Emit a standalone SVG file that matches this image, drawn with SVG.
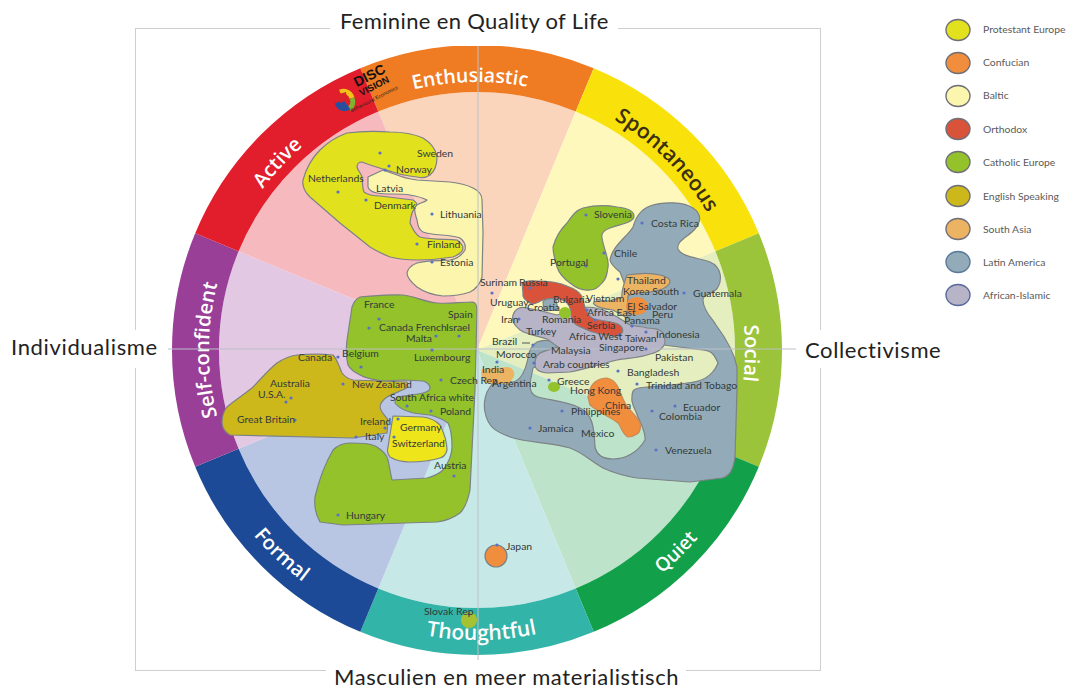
<svg xmlns="http://www.w3.org/2000/svg" width="1067" height="691" viewBox="0 0 1067 691">
<style>
text{font-family:"Lato","Liberation Sans",sans-serif}
.t{font-size:22px;fill:#222;letter-spacing:.35px}
.ring{font-family:"Open Sans","Liberation Sans",sans-serif;font-size:20px;font-weight:600;fill:#fff;text-anchor:middle}
.l{font-size:10.4px;fill:#333a3a}
.g{font-size:10.4px;fill:#5a5a5a}
.r{stroke:#7c8285;stroke-width:1.2;stroke-linejoin:round}
.k{stroke:#6f6f78;stroke-width:1.4}
.d{fill:#5b72c4}
.pe{fill:#E2E11E}.co{fill:#F08E3E}.ba{fill:#FBF5AE}.or{fill:#D9533A}.ce{fill:#93C22B}.en{fill:#CDB81B}.sa{fill:#ECB362}.la{fill:#93ABB8}.ai{fill:#B6B4C6}
</style>
<defs>
<path id="pEnth" d="M374.4 102.4A268 268 0 0 1 579.6 102.4"/>
<path id="pSpon" d="M579.6 102.4A268 268 0 0 1 724.6 247.4"/>
<path id="pSoc" d="M724.6 247.4A268 268 0 0 1 724.6 452.6"/>
<path id="pAct" d="M229.4 247.4A268 268 0 0 1 374.4 102.4"/>
<path id="pSelf" d="M229.4 452.6A268 268 0 0 1 229.4 247.4"/>
<path id="pQuiet" d="M588 618A290 290 0 0 0 745 461"/>
<path id="pThou" d="M366 618A290 290 0 0 0 588 618"/>
<path id="pForm" d="M209 461A290 290 0 0 0 366 618"/>
</defs>
<rect id="frame" x="135.5" y="28.5" width="685" height="642" fill="#fff" stroke="#cfcfcf"/>
<g id="wedges">
<path fill="#FBD4BC" d="M477 350L378.3 111.6A258 258 0 0 1 575.7 111.6Z"/>
<path fill="#FEF8BC" d="M477 350L575.7 111.6A258 258 0 0 1 715.4 251.3Z"/>
<path fill="#E4EEBE" d="M477 350L715.4 251.3A258 258 0 0 1 715.4 448.7Z"/>
<path fill="#BDE3CB" d="M477 350L715.4 448.7A258 258 0 0 1 575.7 588.4Z"/>
<path fill="#C6E8E7" d="M477 350L575.7 588.4A258 258 0 0 1 378.3 588.4Z"/>
<path fill="#B8C6E3" d="M477 350L378.3 588.4A258 258 0 0 1 238.6 448.7Z"/>
<path fill="#E2C8E3" d="M477 350L238.6 448.7A258 258 0 0 1 238.6 251.3Z"/>
<path fill="#F6B9BE" d="M477 350L238.6 251.3A258 258 0 0 1 378.3 111.6Z"/>
</g>
<g id="ring">
<path fill="#EF7B22" d="M360.3 68.2A305 305 0 0 1 593.7 68.2L575.7 111.6A258 258 0 0 0 378.3 111.6Z"/>
<path fill="#F9E10B" d="M593.7 68.2A305 305 0 0 1 758.8 233.3L715.4 251.3A258 258 0 0 0 575.7 111.6Z"/>
<path fill="#9CC43A" d="M758.8 233.3A305 305 0 0 1 758.8 466.7L715.4 448.7A258 258 0 0 0 715.4 251.3Z"/>
<path fill="#12A04B" d="M758.8 466.7A305 305 0 0 1 593.7 631.8L575.7 588.4A258 258 0 0 0 715.4 448.7Z"/>
<path fill="#32B4A8" d="M593.7 631.8A305 305 0 0 1 360.3 631.8L378.3 588.4A258 258 0 0 0 575.7 588.4Z"/>
<path fill="#1C4A96" d="M360.3 631.8A305 305 0 0 1 195.2 466.7L238.6 448.7A258 258 0 0 0 378.3 588.4Z"/>
<path fill="#9A3F97" d="M195.2 466.7A305 305 0 0 1 195.2 233.3L238.6 251.3A258 258 0 0 0 238.6 448.7Z"/>
<path fill="#E21E2C" d="M195.2 233.3A305 305 0 0 1 360.3 68.2L378.3 111.6A258 258 0 0 0 238.6 251.3Z"/>
</g>
<g id="ring-labels">
<text class="ring" style="font-size:19.5px"><textPath href="#pEnth" startOffset="46.7%">Enthusiastic</textPath></text>
<text class="ring" style="fill:#3a2f10;font-size:21px"><textPath href="#pSpon" startOffset="50%">Spontaneous</textPath></text>
<text class="ring"><textPath href="#pSoc" startOffset="51.5%">Social</textPath></text>
<text class="ring"><textPath href="#pAct" startOffset="46%">Active</textPath></text>
<text class="ring"><textPath href="#pSelf" startOffset="50%">Self-confident</textPath></text>
<text class="ring" style="font-size:19px"><textPath href="#pQuiet" startOffset="49%">Quiet</textPath></text>
<text class="ring" style="font-size:21px"><textPath href="#pThou" startOffset="52%">Thoughtful</textPath></text>
<text class="ring"><textPath href="#pForm" startOffset="53%">Formal</textPath></text>
</g>
<g id="clusters">
<path id="latin-america" class="r la" d="M610 260C612 246 628 236 633 227C636 217 640 210 650 206C664 201 684 202 693 208C702 214 701 222 695 229C688 237 676 241 678 249C681 257 700 258 710 262C722 267 722 280 718 287C714 295 702 293 703 301C704 312 712 318 716 325C725 337 734 352 737 367L737 390L735 457C733 470 730 476 722 478L690 482L637 478C624 476 614 473 603 468C592 462 582 452 570 448C550 442 528 443 510 437C497 432 488 428 485 412C483 402 486 392 490 387C494 380 504 380 513 382C522 380 526 368 528 358C529 350 532 345 537 342C544 339 552 340 557 345L550 360L533 368L530 383C530 392 532 395 538 397C548 400 570 402 580 408C592 414 594 425 595 447C597 456 605 459 613 459C626 459 638 452 645 440C646 430 639 421 636 412C633 405 631 402 632 397C632 390 633 388 647 387C660 386 676 385 687 383C700 382 712 378 718 363C714 354 712 351 703 350L663 345L640 345L625 330L627 300L625 285L620 272C615 268 611 265 610 260Z"/>
<path id="latin-blob" class="r la" d="M543 302C546 297 553 297 556 300L558 310L544 311Z"/>
<path id="catholic-north" class="r ce" d="M553 247C556 236 561 229 567 223C572 216 576 210 583 208C595 205 607 205 617 207C626 208 634 210 634 216C634 222 625 223 610 228C604 230 601 233 602 238C603 244 604 246 605 250C607 256 609 262 608 267C607 275 606 279 602 283C598 288 595 290 590 290C582 291 576 288 570 283C563 278 559 273 557 267C555 260 553 254 553 247Z"/>
<path id="south-asia" class="r sa" d="M627 275C640 273 652 273 660 275C668 277 672 280 669 284C666 289 660 290 650 292C640 293 632 293 628 296L627 318L613 310C605 309 598 308 595 305C590 302 597 300 610 301L622 297C621 291 624 284 627 275Z"/>
<path id="african-islamic" class="r ai" d="M513 315C515 309 520 306 527 308L537 310L557 315C566 312 572 309 580 308C590 306 600 308 610 313C620 318 625 322 630 325C637 327 642 326 647 328C655 328 662 329 664 335C666 342 665 345 662 348C658 352 655 353 650 354C640 358 627 358 617 360C604 363 586 369 570 372L547 373C539 372 535 370 535 365C535 358 536 356 540 353C546 350 553 349 558 347C552 343 549 340 547 339C538 336 528 335 520 330C515 326 511 321 513 315Z"/>
<path id="orthodox" class="r or" d="M522 283C528 280 530 281 537 281C548 281 558 282 567 286C575 289 579 292 581 295C584 301 584 306 586 310C588 315 590 317 594 319C602 321 611 321 618 324C622 326 624 330 622 333C619 336 617 337 613 336C605 335 593 333 585 329C579 326 576 326 573 322C570 316 572 311 569 306C567 302 564 300 559 299C553 298 548 298 543 300C538 302 536 304 532 304C527 302 522 298 523 293Z"/>
<ellipse id="confucian-sv" class="co" cx="637" cy="306" rx="11" ry="9"/>
<path id="confucian-china" class="r co" style="stroke:#c98a55" d="M588 397C589 390 591 385 595 382C599 379 603 378 607 378C612 379 616 383 618 387C621 393 622 398 625 403C629 410 637 416 640 423C641 428 640 432 637 434C634 436 631 437 628 437C622 434 622 428 618 423C612 418 606 416 600 412C594 408 591 406 590 405Z"/>
<path id="south-asia-india" class="sa" d="M482 369L508 367C513 368 515 372 514 376C512 381 507 385 503 384L486 383C482 380 480 374 482 369Z"/>
<path id="baltic" class="r ba" d="M368 177L383 170L397 175C404 178 410 179 417 180L450 182C460 183 467 185 473 188C479 191 482 195 482 200L483 233L482 277C480 285 476 289 470 292C462 295 452 296 443 296C433 295 424 292 417 287C411 282 407 278 407 273C408 268 412 265 417 263C428 260 440 261 450 260C457 259 462 255 465 250C466 245 464 241 460 238C449 234 434 236 423 232C418 229 418 225 417 220C415 214 414 210 415 207C417 203 424 203 427 200C421 197 416 196 410 195C398 193 388 195 377 193C372 192 369 190 368 187Z"/>
<path id="protestant" class="r pe" d="M303 180C306 169 312 158 320 150C328 142 336 137 347 133C362 131 376 131 390 132C402 132 414 134 423 138C431 143 436 149 437 157C437 165 435 171 430 175C426 178 421 178 417 177C409 176 401 175 393 172C383 169 372 166 362 162C359 162 357 164 357 167C358 171 361 173 362 177C363 183 362 188 364 192C368 195 374 196 380 196L413 200C416 202 418 204 416 206C414 208 411 214 410 223C413 230 416 235 420 237C432 240 445 239 457 240C461 243 463 245 463 248C463 252 458 255 453 257C441 259 429 260 417 260C407 260 398 259 390 257C383 254 376 251 370 247L340 223L310 197C305 192 302 186 303 180Z"/>
<path id="catholic-south" class="r ce" d="M347 340L352 307C354 301 356 299 360 297C374 296 390 294 403 295C414 296 425 302 437 303C449 304 461 302 473 302C476 303 477 306 477 310L475 390L470 490C468 500 465 508 460 513C453 518 445 521 437 522L343 525L320 522C316 515 314 506 315 497C319 480 326 462 333 450C338 445 344 443 350 443C360 443 370 443 377 447C383 451 387 455 388 460L392 480L427 478C434 476 439 474 443 470C449 462 452 455 452 447C452 438 451 429 448 423C443 419 437 417 430 415C423 414 416 414 410 412C403 410 398 407 395 403C395 400 396 398 398 397C407 395 415 395 423 393C427 392 430 390 430 388C430 385 427 382 423 381L403 380L383 381C375 380 367 379 360 375C354 372 350 369 348 365C346 357 346 348 347 340Z"/>
<path id="english" class="r en" d="M222 422C222 416 224 411 227 407C235 400 245 394 253 387C261 379 268 370 277 363C283 359 290 356 297 355C309 354 322 354 333 355C337 359 339 366 342 373C345 377 349 379 353 380L407 382L408 387C402 391 394 393 387 397C383 400 380 403 380 407C381 413 386 416 388 420L387 433L353 438L230 435C225 432 222 428 222 422Z"/>
<path id="protestant-de" class="r pe" style="fill:#EEE61A" d="M393 416L423 417C431 418 436 421 440 425C444 433 447 441 447 450C446 454 444 457 440 458C430 461 420 462 410 462C402 462 395 460 390 457C387 453 387 450 388 447Z"/>
<ellipse id="catholic-romania" class="ce" cx="565" cy="313" rx="6" ry="6"/>
<ellipse id="catholic-greece" class="ce" cx="554" cy="387" rx="6" ry="5"/>
<circle id="japan" class="r co" cx="496" cy="556" r="11"/>
<circle id="slovak" cx="469" cy="620" r="8" fill="#A6C233"/>
</g>
<g id="connectors" stroke="#bcc0c8" stroke-width="1" fill="none">
<path d="M478 28V670"/>
<path d="M168 349H800"/>
<path d="M522 343H530" stroke="#555"/>
</g>
<g id="points">
<circle class="d" cx="380" cy="153" r="1.6"/><circle class="d" cx="389" cy="166" r="1.6"/><circle class="d" cx="385" cy="170" r="1.6"/><circle class="d" cx="338" cy="192" r="1.6"/><circle class="d" cx="366" cy="200" r="1.6"/><circle class="d" cx="432" cy="214" r="1.6"/><circle class="d" cx="417" cy="244" r="1.6"/><circle class="d" cx="432" cy="262" r="1.6"/>
<circle class="d" cx="492" cy="293" r="1.6"/><circle class="d" cx="530" cy="288" r="1.6"/><circle class="d" cx="586" cy="215" r="1.6"/><circle class="d" cx="642" cy="223" r="1.6"/><circle class="d" cx="604" cy="253" r="1.6"/><circle class="d" cx="586" cy="266" r="1.6"/><circle class="d" cx="618" cy="279" r="1.6"/><circle class="d" cx="684" cy="293" r="1.6"/>
<circle class="d" cx="519" cy="319" r="1.6"/><circle class="d" cx="533" cy="345" r="1.6"/><circle class="d" cx="587" cy="310" r="1.6"/><circle class="d" cx="595" cy="320" r="1.6"/><circle class="d" cx="632" cy="326" r="1.6"/><circle class="d" cx="619" cy="335" r="1.6"/><circle class="d" cx="646" cy="332" r="1.6"/><circle class="d" cx="646" cy="349" r="1.6"/><circle class="d" cx="534" cy="363" r="1.6"/><circle class="d" cx="497" cy="362" r="1.6"/>
<circle class="d" cx="618" cy="371" r="1.6"/><circle class="d" cx="637" cy="384" r="1.6"/><circle class="d" cx="549" cy="380" r="1.6"/><circle class="d" cx="652" cy="411" r="1.6"/><circle class="d" cx="675" cy="406" r="1.6"/><circle class="d" cx="562" cy="411" r="1.6"/><circle class="d" cx="530" cy="428" r="1.6"/><circle class="d" cx="656" cy="450" r="1.6"/>
<circle class="d" cx="369" cy="328" r="1.6"/><circle class="d" cx="379" cy="319" r="1.6"/><circle class="d" cx="436" cy="336" r="1.6"/><circle class="d" cx="459" cy="336" r="1.6"/><circle class="d" cx="432" cy="350" r="1.6"/><circle class="d" cx="361" cy="367" r="1.6"/><circle class="d" cx="338" cy="357" r="1.6"/><circle class="d" cx="441" cy="380" r="1.6"/><circle class="d" cx="343" cy="384" r="1.6"/><circle class="d" cx="291" cy="398" r="1.6"/><circle class="d" cx="286" cy="402" r="1.6"/><circle class="d" cx="295" cy="420" r="1.6"/><circle class="d" cx="407" cy="406" r="1.6"/><circle class="d" cx="431" cy="411" r="1.6"/><circle class="d" cx="398" cy="419" r="1.6"/><circle class="d" cx="385" cy="428" r="1.6"/><circle class="d" cx="356" cy="437" r="1.6"/><circle class="d" cx="394" cy="437" r="1.6"/><circle class="d" cx="454" cy="476" r="1.6"/><circle class="d" cx="338" cy="515" r="1.6"/><circle class="d" cx="497" cy="545" r="1.6"/><circle class="d" cx="469" cy="614" r="1.6"/>
</g>
<g id="labels">
<text class="l" x="417" y="157">Sweden</text><text class="l" x="396" y="173">Norway</text><text class="l" x="308" y="182">Netherlands</text><text class="l" x="376" y="192">Latvia</text><text class="l" x="374" y="209">Denmark</text><text class="l" x="440" y="218">Lithuania</text><text class="l" x="427" y="248">Finland</text><text class="l" x="440" y="266">Estonia</text>
<text class="l" x="480" y="286">Surinam</text><text class="l" x="519" y="286">Russia</text><text class="l" x="490" y="306">Uruguay</text><text class="l" x="527" y="311">Croatia</text><text class="l" x="553" y="303">Bulgaria</text><text class="l" x="586" y="302">Vietnam</text><text class="l" x="501" y="323">Iran</text><text class="l" x="542" y="323">Romania</text><text class="l" x="587" y="316">Africa East</text><text class="l" x="624" y="324">Panama</text><text class="l" x="526" y="335">Turkey</text><text class="l" x="569" y="340">Africa West</text><text class="l" x="587" y="329">Serbia</text><text class="l" x="625" y="342">Taiwan</text><text class="l" x="656" y="338">Indonesia</text><text class="l" x="599" y="351">Singapore</text><text class="l" x="492" y="345">Brazil</text><text class="l" x="551" y="354">Malaysia</text><text class="l" x="496" y="358">Morocco</text><text class="l" x="543" y="368">Arab countries</text><text class="l" x="655" y="361">Pakistan</text><text class="l" x="482" y="373">India</text><text class="l" x="627" y="376">Bangladesh</text><text class="l" x="557" y="385">Greece</text><text class="l" x="492" y="387">Argentina</text><text class="l" x="570" y="394">Hong Kong</text><text class="l" x="646" y="389">Trinidad and Tobago</text><text class="l" x="605" y="409">China</text><text class="l" x="683" y="411">Ecuador</text><text class="l" x="659" y="420">Colombia</text><text class="l" x="571" y="415">Philippines</text><text class="l" x="538" y="432">Jamaica</text><text class="l" x="581" y="437">Mexico</text><text class="l" x="665" y="454">Venezuela</text><text class="l" x="627" y="284">Thailand</text><text class="l" x="623" y="295">Korea South</text><text class="l" x="627" y="310">El Salvador</text><text class="l" x="652" y="318">Peru</text><text class="l" x="614" y="257">Chile</text><text class="l" x="550" y="266">Portugal</text><text class="l" x="594" y="218">Slovenia</text><text class="l" x="651" y="227">Costa Rica</text><text class="l" x="693" y="297">Guatemala</text>
<text class="l" x="364" y="308">France</text><text class="l" x="448" y="318">Spain</text><text class="l" x="379" y="331">Canada French</text><text class="l" x="446" y="331">Israel</text><text class="l" x="406" y="342">Malta</text><text class="l" x="342" y="357">Belgium</text><text class="l" x="414" y="361">Luxembourg</text><text class="l" x="298" y="361">Canada</text><text class="l" x="270" y="387">Australia</text><text class="l" x="352" y="388">New Zealand</text><text class="l" x="258" y="398">U.S.A.</text><text class="l" x="450" y="384">Czech Rep.</text><text class="l" x="390" y="401">South Africa white</text><text class="l" x="440" y="415">Poland</text><text class="l" x="237" y="423">Great Britain</text><text class="l" x="360" y="425">Ireland</text><text class="l" x="400" y="431">Germany</text><text class="l" x="365" y="440">Italy</text><text class="l" x="392" y="447">Switzerland</text><text class="l" x="434" y="469">Austria</text><text class="l" x="346" y="519">Hungary</text><text class="l" x="506" y="550">Japan</text><text class="l" x="424" y="615">Slovak Rep</text>
</g>
<g id="logo">
<path d="M340 92A9 9 0 0 1 352 98" fill="none" stroke="#F2C218" stroke-width="5"/>
<path d="M352 98A9 9 0 0 1 349 109" fill="none" stroke="#7CB52E" stroke-width="5"/>
<path d="M349 109A9 9 0 0 1 336 104L343 101Z" fill="#2A4E9E" stroke="#2A4E9E" stroke-width="2"/>
<path d="M339 94L346 92L347 100L340 103Z" fill="#D8232A"/>
<g transform="rotate(-27 347 99)">
<text x="361" y="93" style="font-size:14px;font-weight:700;fill:#111;font-family:'Liberation Sans',sans-serif">DISC</text>
<text x="361" y="103" style="font-size:9.5px;font-weight:700;fill:#111;font-family:'Liberation Sans',sans-serif">VISION</text>
<text x="345" y="113" style="font-size:5px;fill:#222;font-family:'Liberation Sans',sans-serif">Behavioural Economics</text>
</g>
</g>
<g id="titles">
<rect x="330" y="8" width="288" height="38" fill="#fff"/><text class="t" x="340" y="29">Feminine en Quality of Life</text>
<rect x="6" y="330" width="160" height="38" fill="#fff"/><text class="t" x="11" y="355" style="letter-spacing:.65px">Individualisme</text>
<rect x="796" y="330" width="150" height="38" fill="#fff"/><text class="t" x="805" y="358" style="letter-spacing:.6px">Collectivisme</text>
<rect x="326" y="660" width="360" height="31" fill="#fff"/><text class="t" x="334" y="685" style="letter-spacing:.6px">Masculien en meer materialistisch</text>
</g>
<g id="legend">
<g id="leg-pe"><ellipse class="k pe" cx="958" cy="30" rx="12" ry="10.5"/><text class="g" x="983" y="33">Protestant Europe</text></g>
<g id="leg-co"><ellipse class="k co" cx="958" cy="63" rx="12" ry="10.5"/><text class="g" x="983" y="66">Confucian</text></g>
<g id="leg-ba"><ellipse class="k ba" cx="958" cy="96" rx="12" ry="10.5"/><text class="g" x="983" y="99">Baltic</text></g>
<g id="leg-or"><ellipse class="k or" cx="958" cy="129" rx="12" ry="10.5"/><text class="g" x="983" y="133">Orthodox</text></g>
<g id="leg-ce"><ellipse class="k ce" cx="958" cy="162" rx="12" ry="10.5"/><text class="g" x="983" y="166">Catholic Europe</text></g>
<g id="leg-en"><ellipse class="k en" cx="958" cy="196" rx="12" ry="10.5"/><text class="g" x="983" y="200">English Speaking</text></g>
<g id="leg-sa"><ellipse class="k sa" cx="958" cy="229" rx="12" ry="10.5"/><text class="g" x="983" y="233">South Asia</text></g>
<g id="leg-la"><ellipse class="k la" cx="958" cy="262" rx="12" ry="10.5" style="stroke:#5a7a9c"/><text class="g" x="983" y="266">Latin America</text></g>
<g id="leg-ai"><ellipse class="k ai" cx="958" cy="295" rx="12" ry="10.5" style="stroke:#5a6a9c"/><text class="g" x="983" y="299">African-Islamic</text></g>
</g>
</svg>
